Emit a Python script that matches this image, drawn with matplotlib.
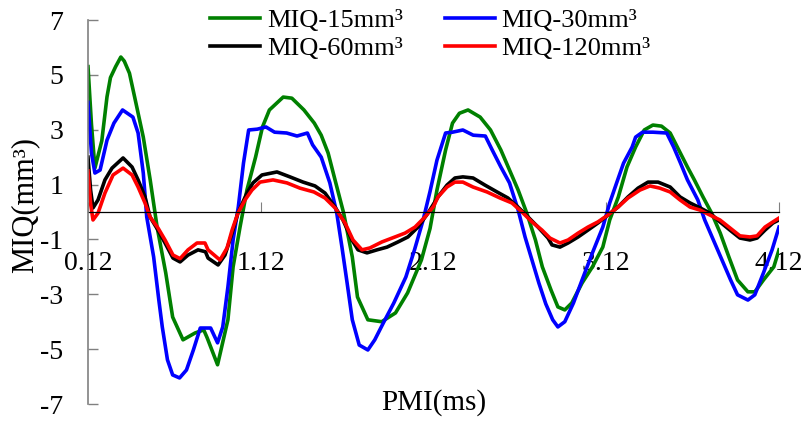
import numpy as np
import matplotlib
matplotlib.use("Agg")
import matplotlib.pyplot as plt

plt.rcParams['font.family'] = ['Liberation Serif', 'DejaVu Serif']
plt.rcParams['axes.unicode_minus'] = False

# PMI (ms), MIQ (mm3)
miq15 = [(0.12, 5.3), (0.14, 3.2), (0.16, 1.6), (0.20, 2.6), (0.23, 4.2), (0.25, 4.9),
         (0.28, 5.3), (0.31, 5.65), (0.33, 5.5), (0.36, 5.06), (0.39, 4.19), (0.44, 2.73),
         (0.48, 1.17), (0.52, -0.55), (0.57, -2.22), (0.61, -3.83), (0.67, -4.66),
         (0.74, -4.41), (0.79, -4.3), (0.81, -4.59), (0.87, -5.57), (0.93, -3.93),
         (0.96, -2.0), (1.00, -0.55), (1.04, 0.80), (1.09, 2.0), (1.13, 3.10), (1.17, 3.72),
         (1.25, 4.19), (1.30, 4.15), (1.37, 3.72), (1.43, 3.24), (1.47, 2.8), (1.51, 2.15),
         (1.55, 1.17), (1.60, -0.04), (1.65, -1.64), (1.68, -3.10), (1.74, -3.93),
         (1.82, -4.0), (1.90, -3.68), (1.97, -2.95), (2.05, -1.75), (2.10, -0.6),
         (2.14, 0.8), (2.19, 2.26), (2.23, 3.24), (2.27, 3.6), (2.32, 3.72), (2.39, 3.46),
         (2.45, 2.99), (2.51, 2.26), (2.56, 1.53), (2.61, 0.80), (2.66, -0.04), (2.71, -1.02),
         (2.75, -2.0), (2.80, -2.84), (2.84, -3.46), (2.88, -3.57), (2.92, -3.32),
         (2.98, -2.59), (3.04, -2.0), (3.10, -1.28), (3.14, -0.29), (3.19, 0.55),
         (3.24, 1.64), (3.29, 2.37), (3.34, 2.99), (3.39, 3.17), (3.44, 3.13), (3.49, 2.88),
         (3.54, 2.26), (3.59, 1.64), (3.63, 1.17), (3.68, 0.55), (3.73, -0.04), (3.78, -0.77),
         (3.83, -1.64), (3.88, -2.48), (3.94, -2.91), (3.98, -2.91), (4.03, -2.48),
         (4.09, -2.0), (4.12, -1.38)]

miq30 = [(0.12, 4.0), (0.14, 2.15), (0.16, 1.42), (0.19, 1.53), (0.23, 2.62), (0.27, 3.24),
         (0.32, 3.72), (0.38, 3.46), (0.41, 2.88), (0.44, 1.42), (0.46, -0.18), (0.50, -1.64),
         (0.53, -3.21), (0.55, -4.19), (0.58, -5.39), (0.61, -5.94), (0.65, -6.05),
         (0.69, -5.76), (0.73, -5.03), (0.77, -4.23), (0.83, -4.23), (0.87, -4.77),
         (0.90, -4.19), (0.93, -2.73), (0.96, -1.02), (0.99, 0.18), (1.02, 1.78), (1.05, 2.99),
         (1.10, 3.02), (1.15, 3.10), (1.20, 2.91), (1.27, 2.88), (1.33, 2.77), (1.39, 2.88),
         (1.42, 2.45), (1.47, 2.0), (1.52, 1.06), (1.56, -0.04), (1.59, -1.28), (1.62, -2.59),
         (1.65, -3.93), (1.69, -4.85), (1.74, -5.03), (1.78, -4.66), (1.83, -4.04),
         (1.89, -3.32), (1.96, -2.37), (2.01, -1.38), (2.06, -0.29), (2.10, 0.75),
         (2.14, 1.89), (2.19, 2.88), (2.23, 2.91), (2.29, 2.99), (2.35, 2.8), (2.42, 2.77),
         (2.46, 2.26), (2.51, 1.64), (2.56, 1.06), (2.61, 0.07), (2.65, -0.91), (2.69, -1.75),
         (2.73, -2.59), (2.77, -3.35), (2.81, -3.93), (2.84, -4.19), (2.88, -4.0),
         (2.93, -3.32), (2.98, -2.48), (3.04, -1.49), (3.10, -0.55), (3.14, 0.33),
         (3.18, 1.06), (3.22, 1.78), (3.27, 2.37), (3.29, 2.73), (3.33, 2.91), (3.39, 2.91),
         (3.47, 2.88), (3.51, 2.37), (3.55, 1.78), (3.59, 1.17), (3.65, 0.44), (3.69, -0.29),
         (3.74, -1.02), (3.79, -1.75), (3.84, -2.48), (3.88, -3.02), (3.94, -3.21),
         (3.98, -3.02), (4.03, -2.22), (4.08, -1.38), (4.12, -0.55)]

miq60 = [(0.12, 2.0), (0.135, 0.8), (0.149, 0.15), (0.178, 0.44), (0.218, 1.17), (0.259, 1.6),
         (0.323, 1.97), (0.375, 1.64), (0.41, 1.17), (0.45, 0.55), (0.479, -0.18),
         (0.525, -0.66), (0.566, -1.13), (0.612, -1.68), (0.653, -1.82), (0.699, -1.57),
         (0.757, -1.38), (0.80, -1.45), (0.815, -1.68), (0.873, -1.93), (0.913, -1.57),
         (0.954, -0.77), (0.988, -0.04), (1.04, 0.69), (1.075, 1.06), (1.127, 1.35),
         (1.214, 1.46), (1.289, 1.28), (1.365, 1.09), (1.434, 0.95), (1.492, 0.69),
         (1.55, 0.18), (1.596, -0.29), (1.648, -1.02), (1.683, -1.38), (1.735, -1.49),
         (1.793, -1.38), (1.851, -1.28), (1.915, -1.09), (1.972, -0.91), (2.03, -0.55),
         (2.088, -0.04), (2.146, 0.55), (2.198, 0.98), (2.244, 1.24), (2.29, 1.28),
         (2.349, 1.24), (2.418, 0.98), (2.488, 0.73), (2.551, 0.51), (2.609, 0.18),
         (2.667, -0.18), (2.725, -0.55), (2.783, -0.95), (2.806, -1.2), (2.852, -1.28),
         (2.899, -1.13), (2.957, -0.91), (3.014, -0.66), (3.072, -0.4), (3.13, -0.11),
         (3.188, 0.18), (3.246, 0.55), (3.304, 0.87), (3.362, 1.09), (3.42, 1.09),
         (3.49, 0.91), (3.547, 0.55), (3.605, 0.33), (3.663, 0.15), (3.72, -0.04),
         (3.778, -0.36), (3.836, -0.66), (3.894, -0.95), (3.952, -1.02), (3.993, -0.95),
         (4.039, -0.66), (4.085, -0.4), (4.12, -0.29)]

miq120 = [(0.12, 1.5), (0.135, 0.3), (0.149, -0.29), (0.178, -0.04), (0.218, 0.69),
          (0.265, 1.35), (0.323, 1.6), (0.375, 1.35), (0.41, 0.91), (0.45, 0.33),
          (0.479, -0.18), (0.525, -0.58), (0.566, -1.02), (0.612, -1.57), (0.653, -1.70),
          (0.699, -1.38), (0.751, -1.13), (0.797, -1.13), (0.815, -1.38), (0.884, -1.75),
          (0.925, -1.31), (0.954, -0.66), (0.988, -0.04), (1.029, 0.44), (1.069, 0.80),
          (1.116, 1.09), (1.191, 1.17), (1.272, 1.06), (1.347, 0.87), (1.428, 0.73),
          (1.492, 0.51), (1.55, 0.15), (1.608, -0.4), (1.654, -1.02), (1.706, -1.38),
          (1.752, -1.31), (1.822, -1.09), (1.897, -0.91), (1.955, -0.77), (2.013, -0.55),
          (2.071, -0.18), (2.12, 0.2), (2.146, 0.55), (2.198, 0.91), (2.244, 1.09),
          (2.29, 1.09), (2.349, 0.91), (2.43, 0.73), (2.505, 0.51), (2.574, 0.33),
          (2.632, 0.0), (2.69, -0.36), (2.748, -0.66), (2.794, -0.95), (2.852, -1.13),
          (2.899, -1.02), (2.957, -0.77), (3.014, -0.55), (3.072, -0.36), (3.13, -0.11),
          (3.188, 0.18), (3.246, 0.51), (3.315, 0.80), (3.373, 0.95), (3.43, 0.87),
          (3.49, 0.73), (3.547, 0.44), (3.605, 0.18), (3.663, 0.07), (3.72, -0.11),
          (3.778, -0.29), (3.836, -0.58), (3.894, -0.87), (3.952, -0.91), (3.993, -0.87),
          (4.039, -0.55), (4.085, -0.36), (4.12, -0.22)]

labels = ['MIQ-15mm³', 'MIQ-30mm³', 'MIQ-60mm³', 'MIQ-120mm³']
colors = ['#008000', '#0000ff', '#000000', '#ff0000']
xticks = [0.12, 1.12, 2.12, 3.12, 4.12]
yticks = [-7, -5, -3, -1, 1, 3, 5, 7]

fig = plt.figure(figsize=(8.05, 4.21), dpi=100)
ax = fig.add_axes([88 / 805, 17 / 421, 691 / 805, 384 / 421])

lines = {}
for pts, lab, c in zip([miq15, miq30, miq60, miq120], labels, colors):
    arr = np.array(pts)
    lines[lab], = ax.plot(arr[:, 0], arr[:, 1], color=c, lw=2.6, label=lab)

ax.set_xlim(0.12, 4.12)
ax.set_ylim(-7, 7)
ax.spines['top'].set_visible(False)
ax.spines['right'].set_visible(False)
ax.spines['bottom'].set_position(('data', 0))
ax.spines['bottom'].set_linewidth(0.9)
ax.spines['left'].set_color('#808080')
ax.spines['left'].set_linewidth(1.2)
ax.spines['left'].set_zorder(5)

ax.set_xticks(xticks)
ax.set_xticklabels([f'{t:.2f}' for t in xticks])
ax.set_yticks(yticks)
ax.tick_params(axis='x', direction='in', length=7, width=0.8, color='#808080',
               pad=28, labelsize=20)
ax.tick_params(axis='y', direction='in', length=7, width=1.0, color='#808080',
               pad=18, labelsize=20)

ax.set_xlabel('PMI(ms)', fontsize=21, va='center')
ax.xaxis.set_label_coords(0.5, 0.003)
ax.set_ylabel('MIQ(mm³)', fontsize=22, va='center')
ax.yaxis.set_label_coords(-63 / 691, 0.518)

order = labels[0], labels[2], labels[1], labels[3]
fig.legend([lines[k] for k in order], order, loc='upper left',
           bbox_to_anchor=(210 / 805, 1 - 9 / 421), ncol=2, frameon=False,
           fontsize=19, handlelength=1.9, handletextpad=0.25, columnspacing=1.6,
           labelspacing=0.15, borderpad=0, borderaxespad=0)

fig.savefig('out.png', dpi=100)
